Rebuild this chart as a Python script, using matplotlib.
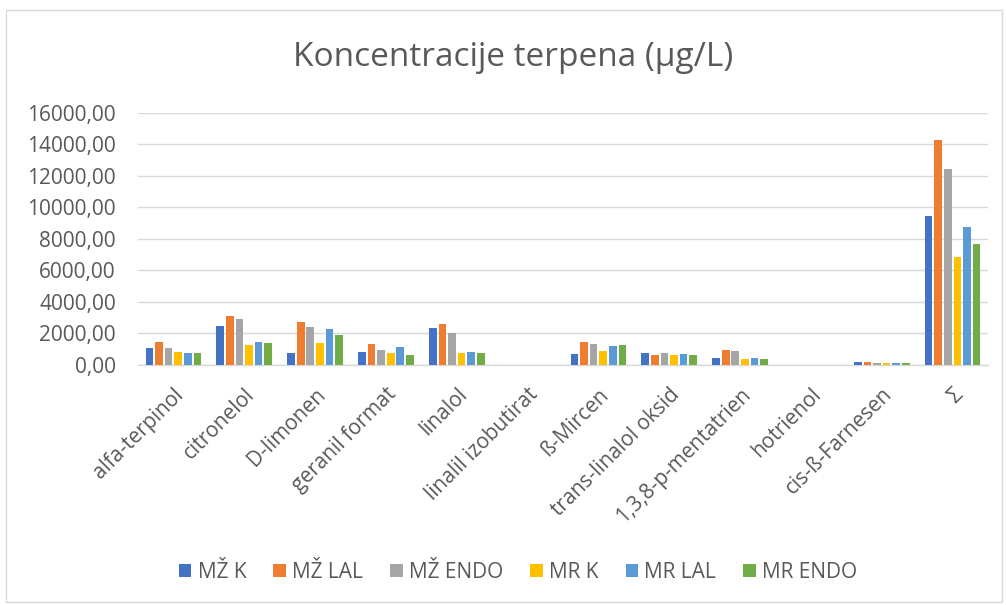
import matplotlib
matplotlib.use("Agg")
import matplotlib.pyplot as plt
import numpy as np
from matplotlib.patches import Rectangle

categories = ["alfa-terpinol", "citronelol", "D-limonen", "geranil format", "linalol",
              "linalil izobutirat", "ß-Mircen", "trans-linalol oksid", "1,3,8-p-mentatrien",
              "hotrienol", "cis-ß-Farnesen", "Σ"]
series_names = ["MŽ K", "MŽ LAL", "MŽ ENDO", "MR K", "MR LAL", "MR ENDO"]
mz_k    = [1080, 2430, 700, 780, 2350, 0, 680, 760, 440, 0, 160, 9430]
mz_lal  = [1420, 3090, 2730, 1330, 2580, 0, 1440, 590, 930, 0, 160, 14310]
mz_endo = [1080, 2900, 2410, 910, 2030, 0, 1290, 720, 890, 0, 110, 12440]
mr_k    = [780, 1270, 1380, 700, 700, 0, 830, 610, 360, 0, 100, 6810]
mr_lal  = [700, 1460, 2270, 1140, 780, 0, 1190, 680, 400, 0, 100, 8760]
mr_endo = [740, 1350, 1880, 610, 740, 0, 1250, 590, 340, 0, 100, 7680]
series = [mz_k, mz_lal, mz_endo, mr_k, mr_lal, mr_endo]
colors = ["#4472C4", "#ED7D31", "#A5A5A5", "#FFC000", "#5B9BD5", "#70AD47"]
yticks = [0, 2000, 4000, 6000, 8000, 10000, 12000, 14000, 16000]

plt.rcParams['font.family'] = ['Open Sans', 'DejaVu Sans']
fig = plt.figure(figsize=(10.06, 6.05), dpi=100)
W, H = 1006, 605
ax = fig.add_axes([138 / W, 1 - 364.5 / H, (988 - 138) / W, (364.5 - 113) / H])

n = len(series)
slot = 1 / 7.4
x = np.arange(len(categories))
for i, (vals, c, name) in enumerate(zip(series, colors, series_names)):
    ax.bar(x + (i - (n - 1) / 2) * slot, vals, width=slot * 0.8, color=c,
           label=name, zorder=3)

ax.set_xlim(-0.5, len(categories) - 0.5)
ax.set_ylim(0, 16000)
ax.set_yticks(yticks)
ax.set_yticklabels([f"{v:.2f}".replace(".", ",") for v in yticks], color="#595959", fontsize=15)
ax.yaxis.grid(True, color="#D9D9D9", linewidth=1, zorder=0)
ax.set_xticks(x)
ax.set_xticklabels(categories, rotation=45, ha="right", rotation_mode="anchor",
                   color="#595959", fontsize=15)
ax.tick_params(axis="y", length=0, pad=16)
ax.tick_params(axis="x", length=0, pad=14)
for s in ["top", "right", "left"]:
    ax.spines[s].set_visible(False)
ax.spines["bottom"].set_color("#D9D9D9")
ax.spines["bottom"].set_linewidth(1)

fig.text(513 / W, 1 - 58 / H, "Koncentracije terpena (µg/L)", ha="center", va="center",
         fontsize=24, color="#595959")

leg = fig.legend(loc="center", bbox_to_anchor=(518 / W, 1 - 572 / H), ncol=6,
                 frameon=False, fontsize=15, handlelength=0.6, handleheight=0.6,
                 columnspacing=1.3, handletextpad=0.3)
for t in leg.get_texts():
    t.set_color("#595959")

fig.patches.append(Rectangle((6 / W, 3 / H), (1002 - 6) / W, (595 - 3) / H,
                             transform=fig.transFigure, fill=False,
                             edgecolor="#D9D9D9", linewidth=1))

fig.savefig("out.png", dpi=100)
